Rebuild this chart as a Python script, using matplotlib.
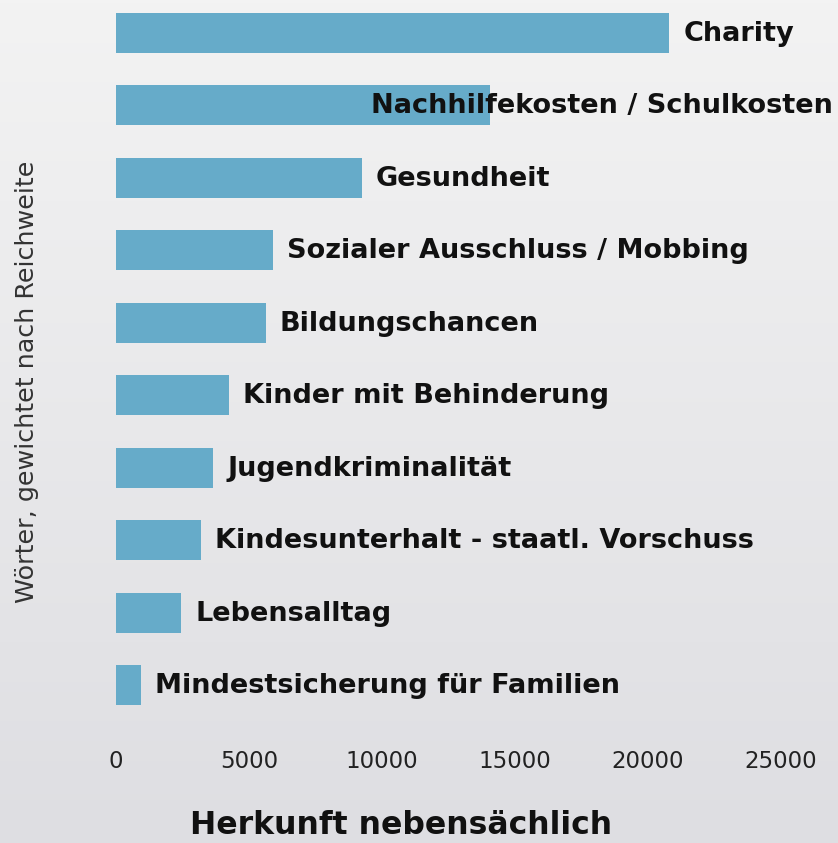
import numpy as np
import matplotlib
matplotlib.use("Agg")
import matplotlib.pyplot as plt
from matplotlib.colors import LinearSegmentedColormap

categories = [
    "Charity",
    "Nachhilfekosten / Schulkosten",
    "Gesundheit",
    "Sozialer Ausschluss / Mobbing",
    "Bildungschancen",
    "Kinder mit Behinderung",
    "Jugendkriminalität",
    "Kindesunterhalt - staatl. Vorschuss",
    "Lebensalltag",
    "Mindestsicherung für Familien",
]
values = [20800, 14050, 9250, 5900, 5630, 4250, 3650, 3200, 2450, 950]
xticks = [0, 5000, 10000, 15000, 20000, 25000]

W, H = 838, 843
fig = plt.figure(figsize=(W / 100, H / 100), dpi=100)

# gradient background
bg = fig.add_axes([0, 0, 1, 1], zorder=-10)
grad = np.linspace(0, 1, 256).reshape(-1, 1)
cmap = LinearSegmentedColormap.from_list("bg", ["#f3f3f3", "#dedee2"])
bg.imshow(grad, aspect="auto", cmap=cmap, extent=[0, 1, 0, 1], origin="upper")
bg.axis("off")

ax = fig.add_axes([116 / W, 1 - 725 / H, (781 - 116) / W, 725 / H])
ax.patch.set_alpha(0)
y = np.arange(len(categories))
ax.barh(y, values, height=0.55, color="#66abc9", edgecolor="none")
ax.set_xlim(0, 25000)
ax.set_ylim(len(categories) - 0.45, -0.45)
ax.set_yticks([])
ax.set_xticks(xticks)
ax.set_xticklabels([str(t) for t in xticks], fontsize=16.5, family="DejaVu Sans", color="#222222")
ax.tick_params(axis="x", length=0, pad=18)
for s in ax.spines.values():
    s.set_visible(False)

fig.canvas.draw()
renderer = fig.canvas.get_renderer()
right_limit = 833
for yi, (cat, v) in enumerate(zip(categories, values)):
    t = ax.text(v, yi, cat, fontsize=19.5, fontweight="bold", family="DejaVu Sans",
                va="center", ha="left", color="#111111")
    t.set_transform(ax.transData + matplotlib.transforms.ScaledTranslation(14 / 100, -1 / 100, fig.dpi_scale_trans))
    bb = t.get_window_extent(renderer)
    if bb.x1 > right_limit:
        shift = (bb.x1 - right_limit) / 100
        t.set_transform(ax.transData + matplotlib.transforms.ScaledTranslation(14 / 100 - shift, -1 / 100, fig.dpi_scale_trans))

fig.text(401 / W, 1 - 826 / H, "Herkunft nebensächlich", fontsize=22.7, fontweight="bold",
         family="DejaVu Sans", ha="center", va="center", color="#111111")
fig.text(27 / W, 1 - 382 / H, "Wörter, gewichtet nach Reichweite", fontsize=18.3,
         family="DejaVu Sans", rotation=90, ha="center", va="center", color="#333333")

fig.savefig("out.png", dpi=100)
